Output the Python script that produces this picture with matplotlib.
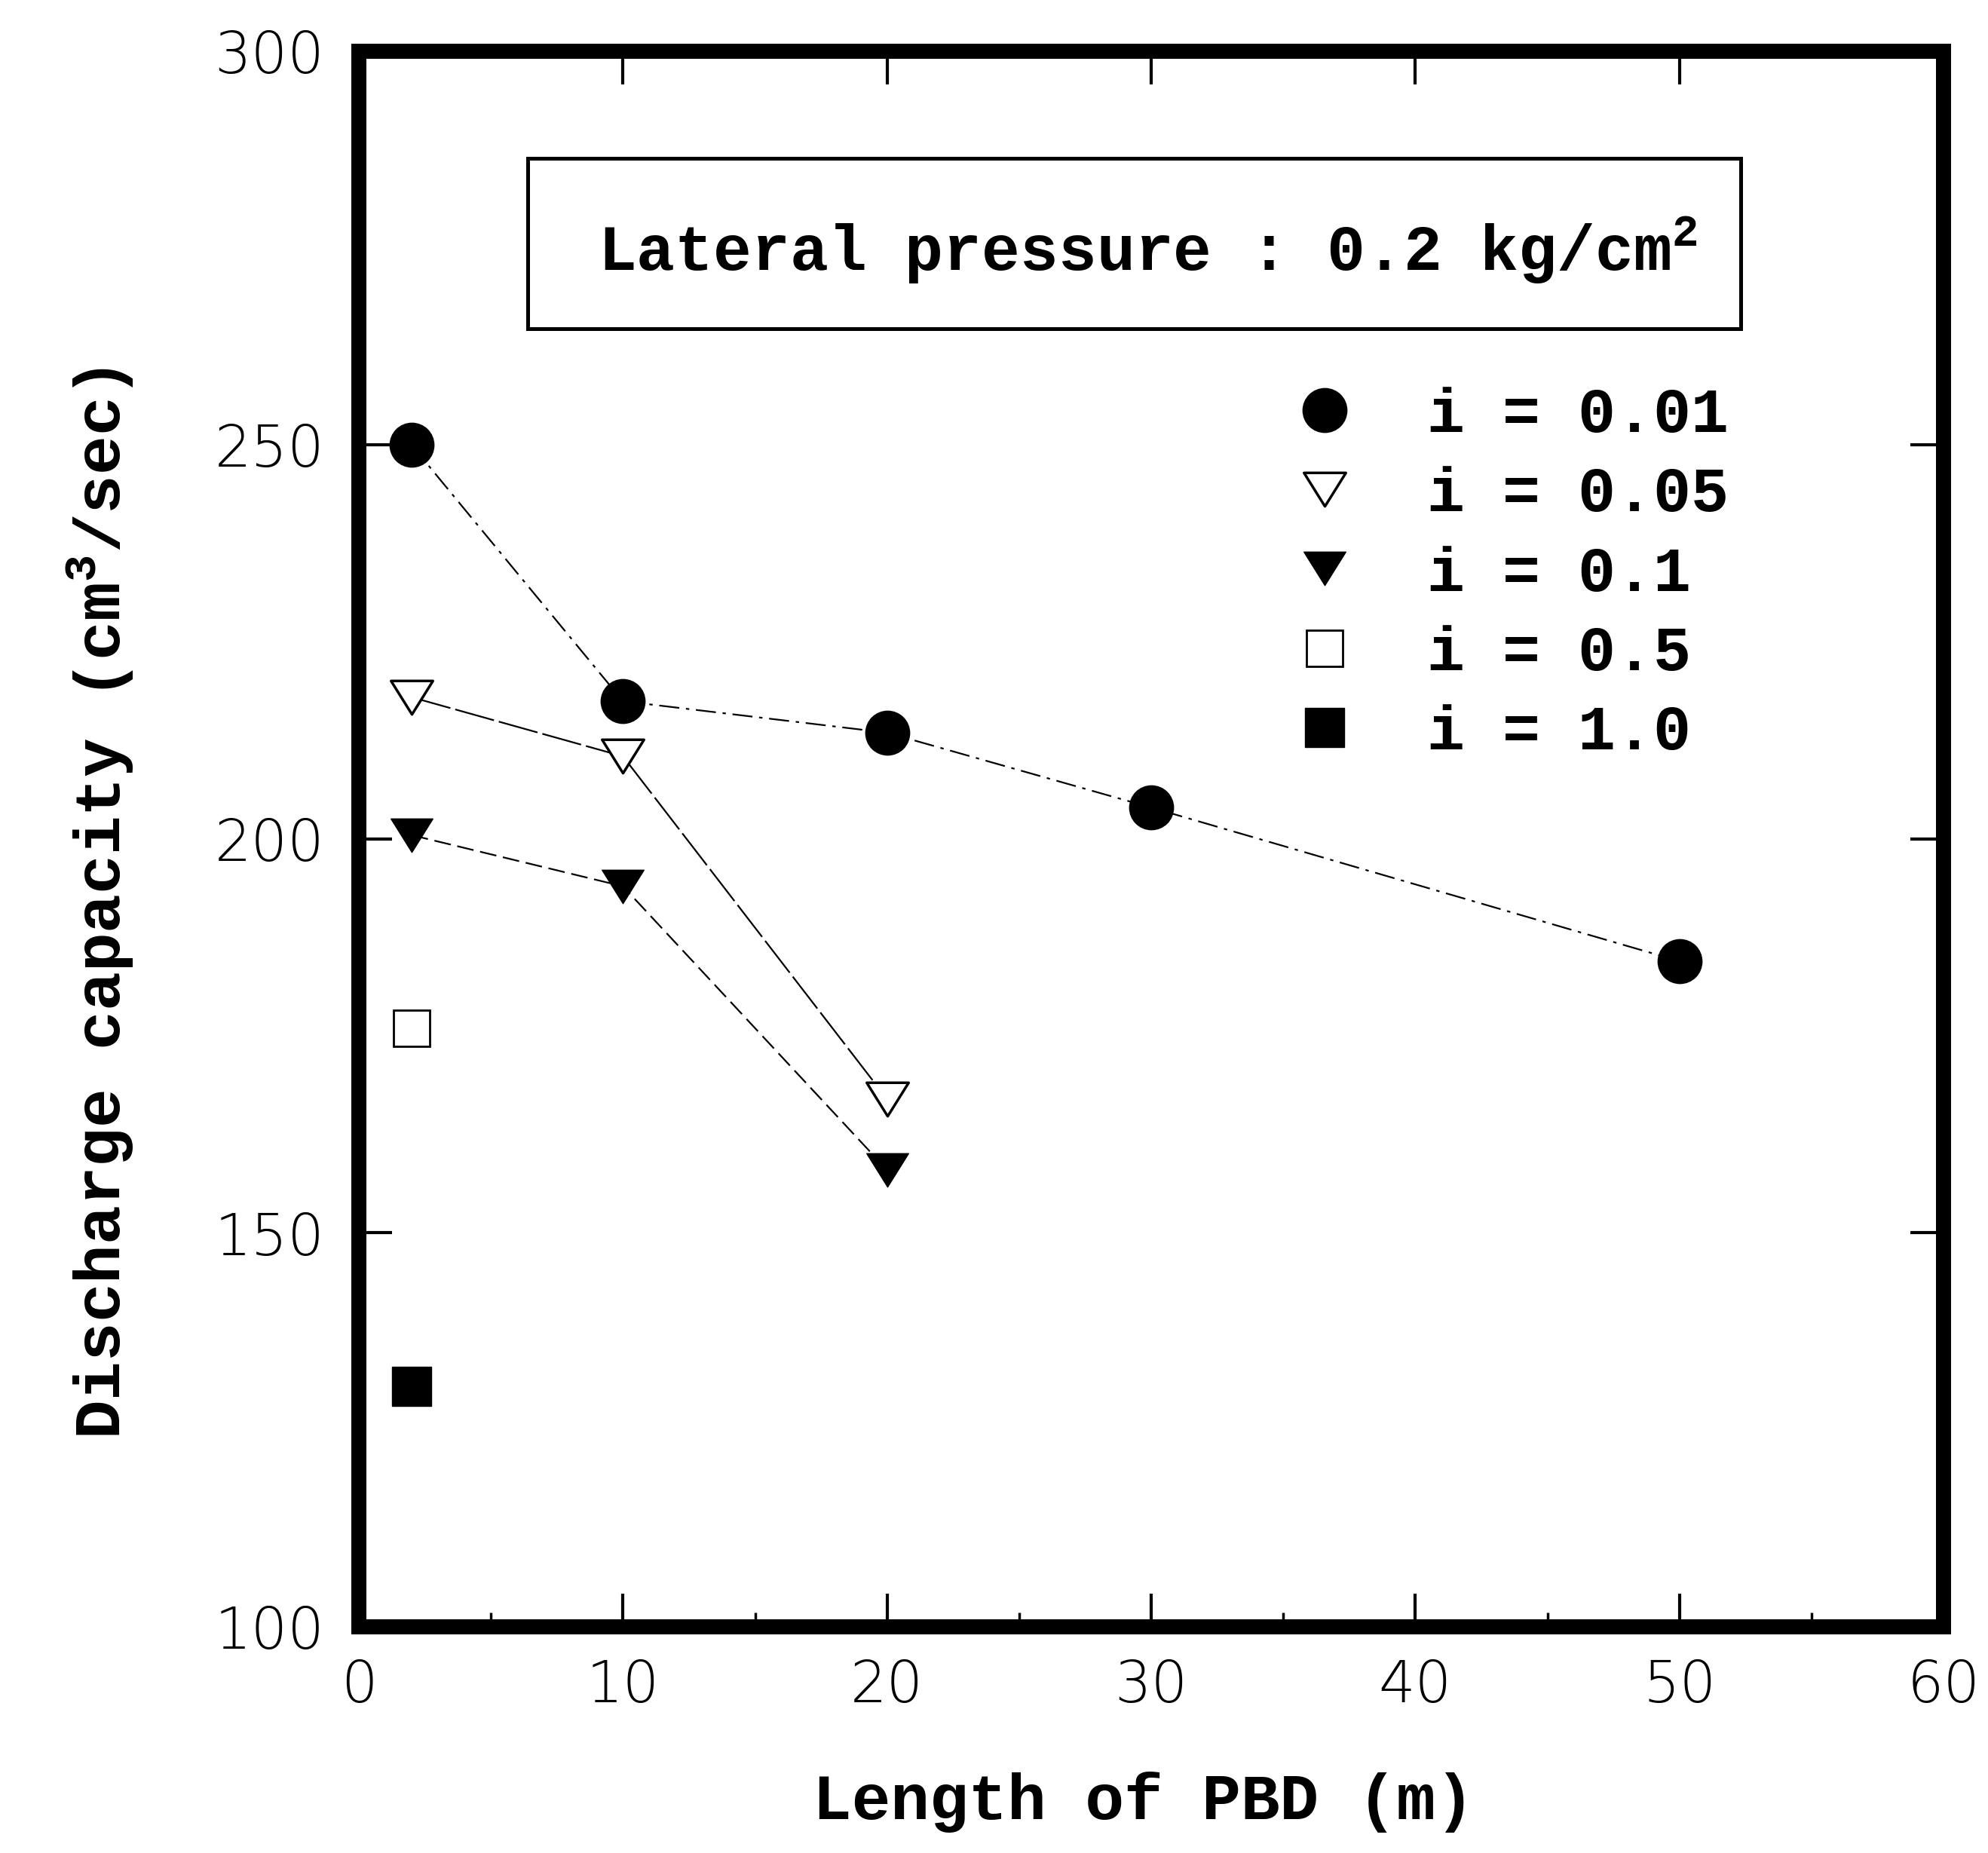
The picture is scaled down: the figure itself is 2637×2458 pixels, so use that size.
import matplotlib.pyplot as plt
from matplotlib.lines import Line2D
from matplotlib.patches import Rectangle
from matplotlib.path import Path
from matplotlib.ticker import MultipleLocator

# values
length_001 = [2, 10, 20, 30, 50]
q_001 = [250, 217.5, 213.5, 204, 184.5]
length_005 = [2, 10, 20]
q_005 = [218, 210.5, 167]
length_01 = [2, 10, 20]
q_01 = [200.5, 194, 158]
length_05 = [2]
q_05 = [176]
length_10 = [2]
q_10 = [130.5]

labels = ['i = 0.01', 'i = 0.05', 'i = 0.1', 'i = 0.5', 'i = 1.0']
x_ticks = [0, 10, 20, 30, 40, 50, 60]
y_ticks = [100, 150, 200, 250, 300]

MONO = 'Liberation Mono'
W, H = 2637, 2458

plt.rcParams['mathtext.fontset'] = 'custom'
plt.rcParams['mathtext.rm'] = 'Liberation Mono:bold'
plt.rcParams['mathtext.default'] = 'regular'

# flat down-triangle (wider than tall)
tri = Path([(-1, 0.8), (1, 0.8), (0, -0.8), (-1, 0.8)],
           [Path.MOVETO, Path.LINETO, Path.LINETO, Path.CLOSEPOLY])

styles = [
    dict(marker='o', ms=42, mfc='k', mec='k', mew=1),
    dict(marker=tri, ms=40, mfc='white', mec='k', mew=2.5),
    dict(marker=tri, ms=40, mfc='k', mec='k', mew=1),
    dict(marker='s', ms=34, mfc='white', mec='k', mew=2.0),
    dict(marker='s', ms=37, mfc='k', mec='k', mew=1),
]

fig = plt.figure(figsize=(W / 100, H / 100), dpi=100)
ax = fig.add_axes([476 / W, 1 - 2158 / H, (2578 - 476) / W, (2158 - 68) / H])

ax.plot(length_001, q_001, color='k', lw=1.6, ls=(0, (12, 4, 2, 4)), **styles[0])
ax.plot(length_005, q_005, color='k', lw=1.6, ls=(0, (24, 3)), **styles[1])
ax.plot(length_01, q_01, color='k', lw=1.6, ls=(0, (10, 4)), **styles[2])
ax.plot(length_05, q_05, color='k', ls='none', **styles[3])
ax.plot(length_10, q_10, color='k', ls='none', **styles[4])

ax.set_xlim(0, 60)
ax.set_ylim(100, 300)
ax.set_xticks(x_ticks)
ax.set_yticks(y_ticks)
ax.xaxis.set_minor_locator(MultipleLocator(5))
ax.tick_params(which='major', direction='in', length=32, width=3,
               top=True, right=True, color='k')
ax.tick_params(axis='x', which='major', pad=30)
ax.tick_params(axis='y', which='major', pad=33)
ax.tick_params(which='minor', direction='in', length=14, width=2.5,
               top=False, right=False, left=False)

tick_font = dict(family=['DejaVu Sans'], weight=200, size=55)
ax.set_xticklabels([str(t) for t in x_ticks], fontdict=tick_font)
ax.set_yticklabels([str(t) for t in y_ticks], fontdict=tick_font)

for s in ax.spines.values():
    s.set_linewidth(14.4)
    s.set_capstyle('projecting')

# boxed note
ax.add_patch(Rectangle((0.1066, 0.824), 0.7654, 0.108, transform=ax.transAxes,
                       fill=False, lw=3.6, ec='k'))
ax.text(0.1508, 0.8608, r'Lateral pressure : 0.2 kg/cm$^{2}$', transform=ax.transAxes,
        family=MONO, weight='bold', fontsize=61, ha='left', va='baseline')

# legend, markers only
handles = [Line2D([], [], color='k', ls='none', **st) for st in styles]
ax.legend(handles, labels, loc='upper left', bbox_to_anchor=(0.6504, 0.7917),
          bbox_transform=fig.transFigure, frameon=False, borderpad=0,
          borderaxespad=0, handlelength=1.0, handletextpad=1.13,
          labelspacing=0.33, prop=dict(family=MONO, weight='bold', size=60))

# axis labels
fig.text(1517 / W, 1 - 2413 / H, 'Length of PBD (m)', family=MONO, weight='bold',
         fontsize=62, ha='center', va='baseline')
fig.text(160 / W, 1 - 1198 / H, r'Discharge capacity (cm$^{3}$/sec)', family=MONO,
         weight='bold', fontsize=62, rotation=90, rotation_mode='anchor',
         ha='center', va='baseline')

fig.savefig('out.png', dpi=100, facecolor='white')
